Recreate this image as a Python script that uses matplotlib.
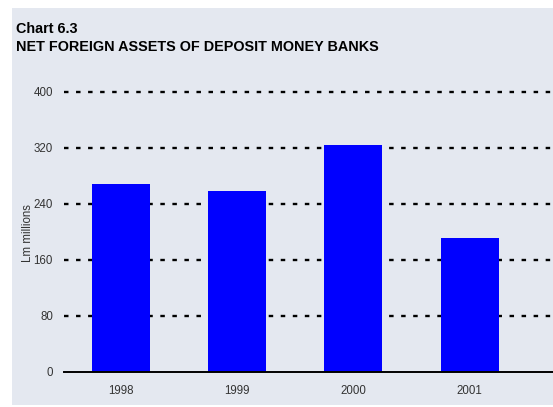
import matplotlib.pyplot as plt
from matplotlib.patches import Rectangle

# ============================================================
# DATOS
# ============================================================

years = ["1998", "1999", "2000", "2001"]
net_foreign_assets = [269, 259, 324, 191]
y_ticks = [0, 80, 160, 240, 320, 400]

BG = "#e4e8f0"
W, H = 553, 407

# ============================================================
# FIGURA
# ============================================================

plt.rcParams["font.family"] = ["Liberation Sans", "DejaVu Sans"]

fig = plt.figure(figsize=(W / 100, H / 100), dpi=100, facecolor="white")
fig.patches.append(Rectangle((12 / W, 1 - 405 / H), 1, (405 - 8) / H,
                             transform=fig.transFigure, facecolor=BG,
                             edgecolor="none", zorder=-1))

fig.text(16 / W, 1 - 29 / H, "Chart 6.3", fontsize=10.4, fontweight="bold",
         va="center", ha="left")
fig.text(16 / W, 1 - 47 / H, "NET FOREIGN ASSETS OF DEPOSIT MONEY BANKS",
         fontsize=10.4, fontweight="bold", va="center", ha="left")

ax = fig.add_axes([64 / W, 1 - 372 / H, (W - 64) / W, 280 / H])
ax.set_facecolor(BG)

x = range(len(years))
ax.bar(x, net_foreign_assets, width=0.5, color="#0000ff", zorder=3)

ax.set_xlim(-0.49, (W - 121) / 116.2)
ax.set_ylim(0, 400)
ax.set_yticks(y_ticks)
ax.set_xticks(list(x))
ax.set_xticklabels(years)

for v in y_ticks[1:]:
    ax.axhline(v, color="black", lw=1.7, linestyle=(0, (1.9, 3.2)),
               zorder=2, clip_on=False)
ax.axhline(0, color="black", lw=1.4, zorder=4, clip_on=False)

for s in ax.spines.values():
    s.set_visible(False)
ax.tick_params(axis="both", length=0, labelsize=8.3, labelcolor="#333333")
ax.tick_params(axis="y", pad=8)
ax.tick_params(axis="x", pad=9)

# etiqueta del eje Y colocada a mano
fig.text(28 / W, 1 - 233 / H, "Lm millions", fontsize=8.3, color="#333333",
         rotation=90, va="center", ha="center")

fig.savefig("out.png", dpi=100, facecolor="white")
